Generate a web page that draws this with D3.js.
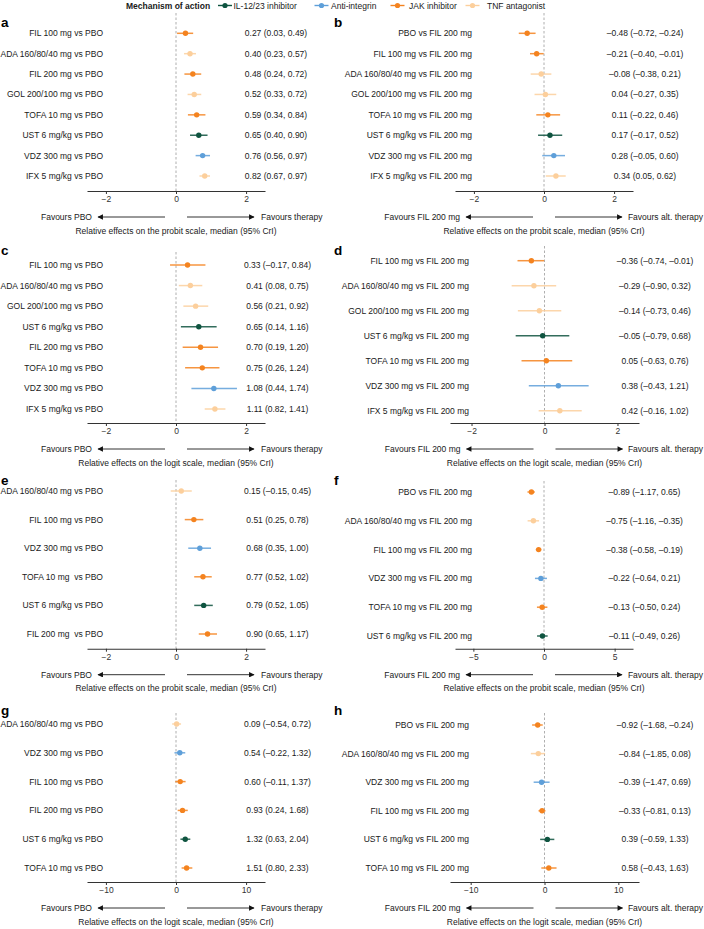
<!DOCTYPE html>
<html>
<head>
<meta charset="utf-8">
<script src="https://cdn.jsdelivr.net/npm/d3@7"></script>
<style>
  body { margin: 0; background: #fff; }
  svg { display: block; font-family: "Liberation Sans", Arial, sans-serif; }
</style>
</head>
<body>
<div id="chart"></div>
<script>
const width = 704
const height = 929

// mechanism classes for the legend
const classes = ["IL-12/23 inhibitor", "Anti-integrin", "JAK inhibitor", "TNF antagonist"]
const drugClass = { UST: "IL-12/23 inhibitor", VDZ: "Anti-integrin", FIL: "JAK inhibitor", TOFA: "JAK inhibitor", PBO: "JAK inhibitor", ADA: "TNF antagonist", GOL: "TNF antagonist", IFX: "TNF antagonist" }

// panel a - probit, vs PBO
const aLabels = ["FIL 100 mg vs PBO", "ADA 160/80/40 mg vs PBO", "FIL 200 mg vs PBO", "GOL 200/100 mg vs PBO", "TOFA 10 mg vs PBO", "UST 6 mg/kg vs PBO", "VDZ 300 mg vs PBO", "IFX 5 mg/kg vs PBO"]
const aMedian = [0.27, 0.40, 0.48, 0.52, 0.59, 0.65, 0.76, 0.82]
const aLower = [0.03, 0.23, 0.24, 0.33, 0.34, 0.40, 0.56, 0.67]
const aUpper = [0.49, 0.57, 0.72, 0.72, 0.84, 0.90, 0.97, 0.97]

// panel b - probit, vs FIL 200 mg
const bLabels = ["PBO vs FIL 200 mg", "FIL 100 mg vs FIL 200 mg", "ADA 160/80/40 mg vs FIL 200 mg", "GOL 200/100 mg vs FIL 200 mg", "TOFA 10 mg vs FIL 200 mg", "UST 6 mg/kg vs FIL 200 mg", "VDZ 300 mg vs FIL 200 mg", "IFX 5 mg/kg vs FIL 200 mg"]
const bMedian = [-0.48, -0.21, -0.08, 0.04, 0.11, 0.17, 0.28, 0.34]
const bLower = [-0.72, -0.40, -0.38, -0.27, -0.22, -0.17, -0.05, 0.05]
const bUpper = [-0.24, -0.01, 0.21, 0.35, 0.46, 0.52, 0.60, 0.62]

// panel c - logit, vs PBO
const cLabels = ["FIL 100 mg vs PBO", "ADA 160/80/40 mg vs PBO", "GOL 200/100 mg vs PBO", "UST 6 mg/kg vs PBO", "FIL 200 mg vs PBO", "TOFA 10 mg vs PBO", "VDZ 300 mg vs PBO", "IFX 5 mg/kg vs PBO"]
const cMedian = [0.33, 0.41, 0.56, 0.65, 0.70, 0.75, 1.08, 1.11]
const cLower = [-0.17, 0.08, 0.21, 0.14, 0.19, 0.26, 0.44, 0.82]
const cUpper = [0.84, 0.75, 0.92, 1.16, 1.20, 1.24, 1.74, 1.41]

// panel d - logit, vs FIL 200 mg
const dLabels = ["FIL 100 mg vs FIL 200 mg", "ADA 160/80/40 mg vs FIL 200 mg", "GOL 200/100 mg vs FIL 200 mg", "UST 6 mg/kg vs FIL 200 mg", "TOFA 10 mg vs FIL 200 mg", "VDZ 300 mg vs FIL 200 mg", "IFX 5 mg/kg vs FIL 200 mg"]
const dMedian = [-0.36, -0.29, -0.14, -0.05, 0.05, 0.38, 0.42]
const dLower = [-0.74, -0.90, -0.73, -0.79, -0.63, -0.43, -0.16]
const dUpper = [-0.01, 0.32, 0.46, 0.68, 0.76, 1.21, 1.02]

// panel e - probit, vs PBO
const eLabels = ["ADA 160/80/40 mg vs PBO", "FIL 100 mg vs PBO", "VDZ 300 mg vs PBO", "TOFA 10 mg  vs PBO", "UST 6 mg/kg vs PBO", "FIL 200 mg  vs PBO"]
const eMedian = [0.15, 0.51, 0.68, 0.77, 0.79, 0.90]
const eLower = [-0.15, 0.25, 0.35, 0.52, 0.52, 0.65]
const eUpper = [0.45, 0.78, 1.00, 1.02, 1.05, 1.17]

// panel f - probit, vs FIL 200 mg
const fLabels = ["PBO vs FIL 200 mg", "ADA 160/80/40 mg vs FIL 200 mg", "FIL 100 mg vs FIL 200 mg", "VDZ 300 mg vs FIL 200 mg", "TOFA 10 mg vs FIL 200 mg", "UST 6 mg/kg vs FIL 200 mg"]
const fMedian = [-0.89, -0.75, -0.38, -0.22, -0.13, -0.11]
const fLower = [-1.17, -1.16, -0.58, -0.64, -0.50, -0.49]
const fUpper = [-0.65, -0.35, -0.19, 0.21, 0.24, 0.26]
// the printed interval for the first row reads "0.65" in the source figure
const fTextOverride = { 0: "–0.89 (–1.17, 0.65)" }

// panel g - logit, vs PBO
const gLabels = ["ADA 160/80/40 mg vs PBO", "VDZ 300 mg vs PBO", "FIL 100 mg vs PBO", "FIL 200 mg vs PBO", "UST 6 mg/kg vs PBO", "TOFA 10 mg vs PBO"]
const gMedian = [0.09, 0.54, 0.60, 0.93, 1.32, 1.51]
const gLower = [-0.54, -0.22, -0.11, 0.24, 0.63, 0.80]
const gUpper = [0.72, 1.32, 1.37, 1.68, 2.04, 2.33]

// panel h - logit, vs FIL 200 mg
const hLabels = ["PBO vs FIL 200 mg", "ADA 160/80/40 mg vs FIL 200 mg", "VDZ 300 mg vs FIL 200 mg", "FIL 100 mg vs FIL 200 mg", "UST 6 mg/kg vs FIL 200 mg", "TOFA 10 mg vs FIL 200 mg"]
const hMedian = [-0.92, -0.84, -0.39, -0.33, 0.39, 0.58]
const hLower = [-1.68, -1.85, -1.47, -0.81, -0.59, -0.43]
const hUpper = [-0.24, 0.08, 0.69, 0.13, 1.33, 1.63]

const ticksTwo = [-2, 0, 2]
const ticksFive = [-5, 0, 5]
const ticksTen = [-10, 0, 10]

const color = d3.scaleOrdinal()
  .domain(classes)
  .range(["#0f5440", "#5e9fd9", "#f4831f", "#fccf9c"])

const fontSize = 8.5
const textColor = "#1a1a1a"

// layout for each panel
const panels = [
  { id: "a", labels: aLabels, med: aMedian, lo: aLower, hi: aUpper, ticks: ticksTwo, scale: "probit", ref: "PBO", xr: [87, 265], dom: 2.54, labelX: 103, valX: 276, letterX: 1, letterY: 22, top: 13, rows: [33.3, 176], axisY: 191 },
  { id: "b", labels: bLabels, med: bMedian, lo: bLower, hi: bUpper, ticks: ticksTwo, scale: "probit", ref: "FIL", xr: [455, 633], dom: 2.54, labelX: 472, valX: 645, letterX: 334, letterY: 22, top: 13, rows: [33.3, 176], axisY: 191 },
  { id: "c", labels: cLabels, med: cMedian, lo: cLower, hi: cUpper, ticks: ticksTwo, scale: "logit", ref: "PBO", xr: [87, 265], dom: 2.54, labelX: 103, valX: 277.5, letterX: 1, letterY: 250, top: 252, rows: [265, 409], axisY: 423 },
  { id: "d", labels: dLabels, med: dMedian, lo: dLower, hi: dUpper, ticks: ticksTwo, scale: "logit", ref: "FIL", xr: [450, 639], dom: 2.59, labelX: 469, valX: 655, letterX: 334, letterY: 250, top: 246, rows: [260.7, 410.7], axisY: 423 },
  { id: "e", labels: eLabels, med: eMedian, lo: eLower, hi: eUpper, ticks: ticksTwo, scale: "probit", ref: "PBO", xr: [87, 265], dom: 2.54, labelX: 103, valX: 277.5, letterX: 1, letterY: 480, top: 480, rows: [491, 634], axisY: 648.7 },
  { id: "f", labels: fLabels, med: fMedian, lo: fLower, hi: fUpper, ticks: ticksFive, scale: "probit", ref: "FIL", xr: [455, 633], dom: 6.3, labelX: 472, valX: 644.5, letterX: 334, letterY: 480, top: 481, rows: [492, 636], axisY: 648.7, override: fTextOverride },
  { id: "g", labels: gLabels, med: gMedian, lo: gLower, hi: gUpper, ticks: ticksTen, scale: "logit", ref: "PBO", xr: [87, 265], dom: 12.7, labelX: 103, valX: 277.5, letterX: 1, letterY: 710, top: 713, rows: [724, 868], axisY: 882 },
  { id: "h", labels: hLabels, med: hMedian, lo: hLower, hi: hUpper, ticks: ticksTen, scale: "logit", ref: "FIL", xr: [450, 639], dom: 12.8, labelX: 469, valX: 655, letterX: 334, letterY: 710, top: 713, rows: [725, 868], axisY: 882 },
]

const fmt = d3.format(".2f")
const num = (v) => fmt(v).replace("−", "–")
const tickFmt = d3.format("d")

const svg = d3.select("#chart").append("svg")
  .attr("width", width)
  .attr("height", height)
  .attr("viewBox", [0, 0, width, height])

const defs = svg.append("defs")
defs.append("marker")
  .attr("id", "arrowhead")
  .attr("viewBox", "0 0 10 10")
  .attr("refX", 9)
  .attr("refY", 5)
  .attr("markerWidth", 7)
  .attr("markerHeight", 5.5)
  .attr("markerUnits", "userSpaceOnUse")
  .attr("orient", "auto")
  .append("path")
  .attr("d", "M0,0L10,5L0,10Z")
  .attr("fill", "#111")

// legend
const legend = svg.append("g").attr("font-size", fontSize).attr("fill", textColor)
legend.append("text")
  .attr("x", 126).attr("y", 5.5)
  .attr("dominant-baseline", "central")
  .attr("font-weight", "bold")
  .text("Mechanism of action")
const legendX = [225, 321.5, 397.5, 472.5]
const legendItems = legend.selectAll("g.item")
  .data(classes)
  .join("g")
  .attr("class", "item")
  .attr("transform", (d, i) => `translate(${legendX[i]},5.5)`)
legendItems.append("line")
  .attr("x1", -7).attr("x2", 7)
  .attr("stroke", (d) => color(d))
  .attr("stroke-width", 1.4)
legendItems.append("circle")
  .attr("r", 2.6)
  .attr("fill", (d) => color(d))
legendItems.append("text")
  .attr("x", (d, i) => [8.5, 9.5, 11.5, 14.5][i])
  .attr("dominant-baseline", "central")
  .text((d) => d)

panels.forEach((p) => {
  const g = svg.append("g")

  const x = d3.scaleLinear().domain([-p.dom, p.dom]).range(p.xr)
  const y = d3.scalePoint().domain(p.labels).range(p.rows)

  const rows = p.labels.map((label, i) => ({
    label,
    med: p.med[i],
    lo: p.lo[i],
    hi: p.hi[i],
    cls: drugClass[label.split(" ")[0]],
    text: (p.override && p.override[i]) || `${num(p.med[i])} (${num(p.lo[i])}, ${num(p.hi[i])})`,
  }))

  // panel letter
  g.append("text")
    .attr("x", p.letterX).attr("y", p.letterY)
    .attr("dominant-baseline", "central")
    .attr("font-size", 13.5)
    .attr("font-weight", "bold")
    .attr("fill", "#000")
    .text(p.id)

  // zero reference line
  g.append("line")
    .attr("x1", x(0)).attr("x2", x(0))
    .attr("y1", p.top).attr("y2", p.axisY)
    .attr("stroke", "#9a9a9a")
    .attr("stroke-width", 0.8)
    .attr("stroke-dasharray", "2.5,2")

  // row labels
  g.append("g")
    .selectAll("text")
    .data(rows)
    .join("text")
    .attr("x", p.labelX)
    .attr("y", (d) => y(d.label))
    .attr("text-anchor", "end")
    .attr("dominant-baseline", "central")
    .attr("font-size", fontSize)
    .attr("fill", textColor)
    .style("white-space", "pre")
    .text((d) => d.label)

  // value labels
  g.append("g")
    .selectAll("text")
    .data(rows)
    .join("text")
    .attr("x", p.valX)
    .attr("y", (d) => y(d.label))
    .attr("text-anchor", "middle")
    .attr("dominant-baseline", "central")
    .attr("font-size", fontSize)
    .attr("fill", textColor)
    .text((d) => d.text)

  // credible intervals
  g.append("g")
    .selectAll("line")
    .data(rows)
    .join("line")
    .attr("x1", (d) => x(d.lo))
    .attr("x2", (d) => x(d.hi))
    .attr("y1", (d) => y(d.label))
    .attr("y2", (d) => y(d.label))
    .attr("stroke", (d) => color(d.cls))
    .attr("stroke-width", 1.5)
    .attr("stroke-opacity", 0.85)

  // medians
  g.append("g")
    .selectAll("circle")
    .data(rows)
    .join("circle")
    .attr("cx", (d) => x(d.med))
    .attr("cy", (d) => y(d.label))
    .attr("r", 2.7)
    .attr("fill", (d) => color(d.cls))

  // x axis
  const axis = g.append("g")
    .attr("transform", `translate(0,${p.axisY})`)
    .call(
      d3.axisBottom(x)
        .tickValues(p.ticks)
        .tickFormat(tickFmt)
        .tickSize(3)
        .tickSizeOuter(0)
        .tickPadding(2)
    )
  axis.select(".domain").attr("stroke", "#333").attr("stroke-width", 1.1)
  axis.selectAll(".tick line").attr("stroke", "#333")
  axis.selectAll(".tick text")
    .attr("font-size", fontSize)
    .attr("font-family", "Liberation Sans, Arial, sans-serif")
    .attr("fill", "#333")

  // direction arrows
  const zx = x(0)
  const ay = p.axisY + 26
  const leftText = p.ref === "PBO" ? "Favours PBO" : "Favours FIL 200 mg"
  const rightText = p.ref === "PBO" ? "Favours therapy" : "Favours alt. therapy"
  // right column text runs to the page edge, so pin it there
  const pinRight = zx + 85 > width - 80
  g.append("line")
    .attr("x1", zx - 11).attr("x2", zx - 78)
    .attr("y1", ay).attr("y2", ay)
    .attr("stroke", "#333").attr("stroke-width", 1)
    .attr("marker-end", "url(#arrowhead)")
  g.append("line")
    .attr("x1", zx + 11).attr("x2", zx + 78)
    .attr("y1", ay).attr("y2", ay)
    .attr("stroke", "#333").attr("stroke-width", 1)
    .attr("marker-end", "url(#arrowhead)")
  g.append("text")
    .attr("x", zx - 84).attr("y", ay)
    .attr("text-anchor", "end")
    .attr("dominant-baseline", "central")
    .attr("font-size", fontSize)
    .attr("fill", textColor)
    .text(leftText)
  g.append("text")
    .attr("x", pinRight ? width - 1 : zx + 85).attr("y", ay)
    .attr("text-anchor", pinRight ? "end" : "start")
    .attr("dominant-baseline", "central")
    .attr("font-size", fontSize)
    .attr("fill", textColor)
    .text(rightText)

  // axis title
  g.append("text")
    .attr("x", zx).attr("y", p.axisY + 39.5)
    .attr("text-anchor", "middle")
    .attr("dominant-baseline", "central")
    .attr("font-size", fontSize)
    .attr("fill", textColor)
    .text(`Relative effects on the ${p.scale} scale, median (95% CrI)`)
})
</script>
</body>
</html>
